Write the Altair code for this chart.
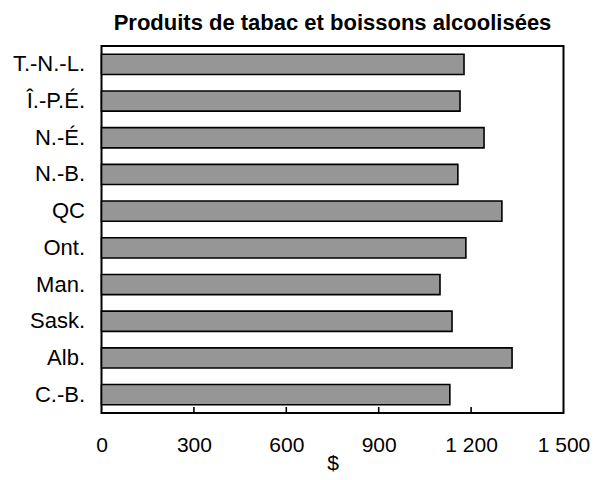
import altair as alt
import pandas as pd

provinces = ["T.-N.-L.", "Î.-P.É.", "N.-É.", "N.-B.", "QC", "Ont.", "Man.", "Sask.", "Alb.", "C.-B."]
values = [1177, 1164, 1242, 1157, 1300, 1183, 1099, 1138, 1333, 1131]
tick_values = [0, 300, 600, 900, 1200, 1500]
inner_ticks = [300, 600, 900, 1200]

df = pd.DataFrame({"prov": provinces, "val": values})
ticks_df = pd.DataFrame({"t": inner_ticks})

W, H = 462, 367
FONT = "Liberation Sans"

x_scale = alt.Scale(domain=[0, 1500], nice=False, zero=True)

bars = alt.Chart(df).mark_bar(
    color="#969696", stroke="black", strokeWidth=1.6
).encode(
    x=alt.X("val:Q", scale=x_scale,
            axis=alt.Axis(values=tick_values, labelExpr="replace(format(datum.value, 'd'), /(\\d)(\\d{3})$/, '$1 $2')",
                          ticks=False, domain=False, grid=False, labelPadding=21, labelFlush=False,
                          labelFontSize=21, labelFont=FONT, labelColor="black",
                          title="$", titleFontSize=21, titleFont=FONT, titleFontWeight="normal",
                          titleColor="black", titlePadding=-3)),
    y=alt.Y("prov:N", sort=provinces,
            scale=alt.Scale(paddingInner=0.45, paddingOuter=0.225),
            axis=alt.Axis(ticks=False, domain=False, grid=False, labelPadding=17,
                          labelFontSize=22, labelFont=FONT, labelColor="black", title=None)),
)

tick_rules = alt.Chart(ticks_df).mark_rule(color="black", strokeWidth=1.6).encode(
    x=alt.X("t:Q", scale=x_scale),
    y=alt.value(H - 6),
    y2=alt.value(H),
)

chart = alt.layer(bars, tick_rules).properties(
    width=W, height=H,
    background="white",
    title=alt.TitleParams("Produits de tabac et boissons alcoolisées", fontSize=22,
                          font=FONT, fontWeight="bold", color="black", offset=11, anchor="middle"),
    autosize=alt.AutoSizeParams(type="none"),
    padding={"left": 93.5, "top": 38, "right": 34, "bottom": 59},
).configure_view(
    stroke="black", strokeWidth=2
)

chart.save("out.html", embed_options={"renderer": "svg", "actions": False})
